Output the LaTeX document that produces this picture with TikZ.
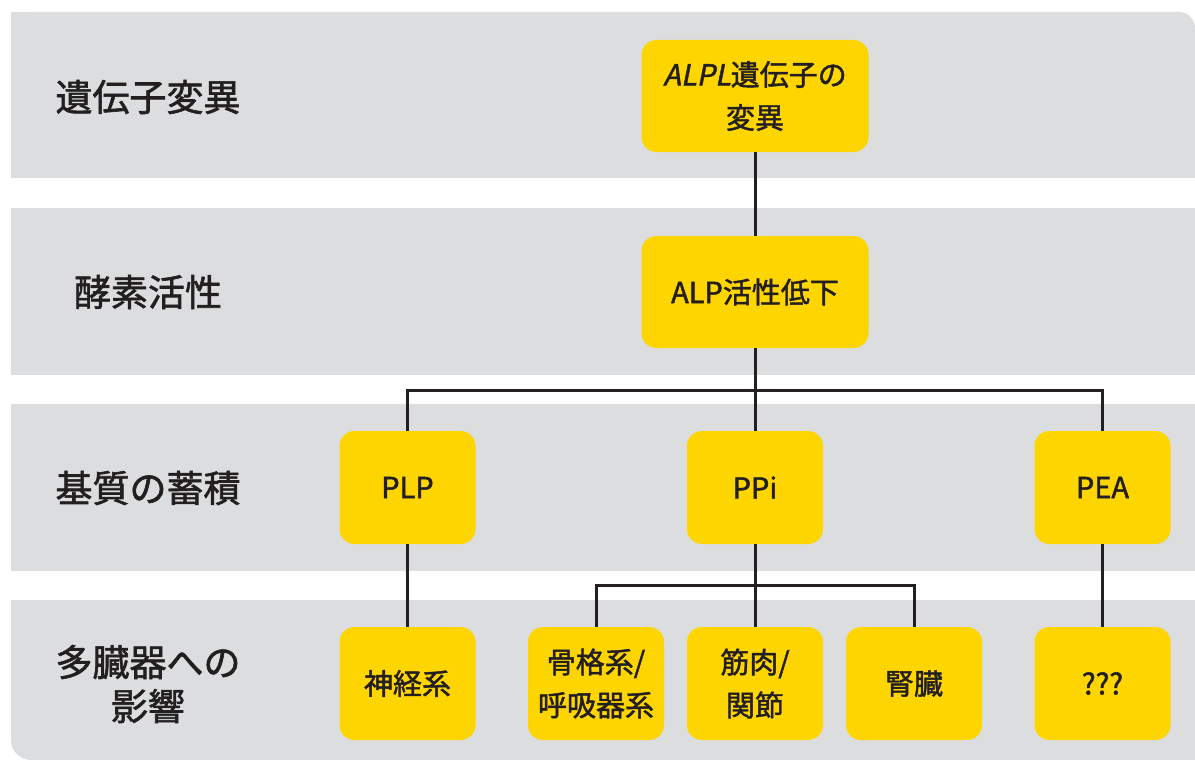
\documentclass[tikz,border=0pt]{standalone}
\usepackage{fontspec}
\setmainfont{Noto Sans CJK JP}[Scale=1.0, RawFeature={embolden=1.6}]
\newfontfamily\slantfont{Noto Sans CJK JP}[FakeSlant=0.2, RawFeature={embolden=1.6}]
\definecolor{bandgray}{HTML}{DCDDDF}
\definecolor{boxyellow}{HTML}{FFD500}
\definecolor{linecol}{HTML}{231F20}
\tikzset{
  ybox/.style={fill=boxyellow, rounded corners=15pt, minimum width=136pt, minimum height=113pt,
    inner sep=0pt, align=center, text=linecol, font=\fontsize{29}{43}\selectfont},
  widebox/.style={ybox, minimum width=227pt, minimum height=112pt},
  rowlabel/.style={align=center, text=linecol, font=\fontsize{37}{44}\selectfont},
  conn/.style={draw=linecol, line width=3pt}
}
\begin{document}
\begin{tikzpicture}[x=1pt,y=-1pt]
\useasboundingbox (0,0) rectangle (1195,760);
% bands
\fill[bandgray, rounded corners=16pt] (11,12) rectangle (1195,178);
\fill[bandgray] (11,12) rectangle (600,178);
\fill[bandgray] (11,60) rectangle (1195,178);
\fill[bandgray] (11,208) rectangle (1195,375);
\fill[bandgray] (11,404) rectangle (1195,571);
\fill[bandgray, rounded corners=20pt] (11,600) rectangle (1195,760);
\fill[bandgray] (11,600) rectangle (1195,700);
\fill[bandgray] (200,600) rectangle (1195,760);
% row labels
\node[rowlabel] (l1) at (148,97) {遺伝子変異};
\node[rowlabel] (l2) at (148,292) {酵素活性};
\node[rowlabel] (l3) at (148,488) {基質の蓄積};
\node[rowlabel] (l4) at (148,684) {多臓器への\\影響};
% boxes
\node[widebox] (alpl) at (755,96) {{\slantfont ALPL}遺伝子の\\変異};
\node[widebox] (alp) at (755,292) {ALP活性低下};
\node[ybox] (plp) at (407.5,487.5) {PLP};
\node[ybox] (ppi) at (755,487.5) {PPi};
\node[ybox] (pea) at (1102.5,487.5) {PEA};
\node[ybox] (nerve) at (407.5,683.5) {神経系};
\node[ybox] (bone) at (596,683.5) {骨格系/\\呼吸器系};
\node[ybox] (muscle) at (755,683.5) {筋肉/\\関節};
\node[ybox] (kidney) at (914,683.5) {腎臓};
\node[ybox] (unk) at (1102.5,683.5) {???};
% connectors
\coordinate (j1) at (755,390);
\coordinate (j2) at (755,585);
\draw[conn] (alpl.south) -- (alp.north);
\draw[conn] (alp.south) -- (j1);
\draw[conn, line join=miter] (plp.north) -- (plp.north |- j1) -- (pea.north |- j1) -- (pea.north);
\draw[conn] (j1) -- (ppi.north);
\draw[conn] (ppi.south) -- (j2);
\draw[conn, line join=miter] (bone.north) -- (bone.north |- j2) -- (kidney.north |- j2) -- (kidney.north);
\draw[conn] (j2) -- (muscle.north);
\draw[conn] (plp.south) -- (nerve.north);
\draw[conn] (pea.south) -- (unk.north);
\end{tikzpicture}
\end{document}
